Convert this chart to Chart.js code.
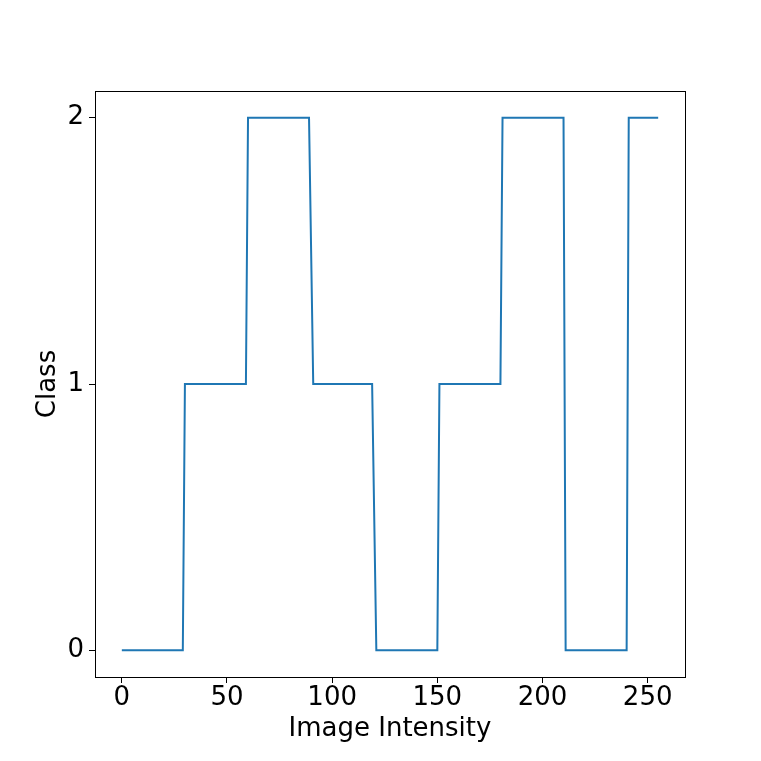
<!DOCTYPE html>
<html>
<head>
<meta charset="utf-8">
<script src="https://cdn.jsdelivr.net/npm/chart.js@4/dist/chart.umd.min.js"></script>
<style>
  html, body { margin: 0; padding: 0; background: #fff; }
  #wrap { width: 761px; height: 761px; }
</style>
</head>
<body>
<div id="wrap"><canvas id="chart"></canvas></div>
<script>
// Dados da curva (pontos de quebra da função em degrau)
const intensity = [0, 29, 30, 59, 60, 89, 91, 119, 121, 150, 151, 180, 181, 210, 211, 240, 241, 255];
const classValue = [0, 0, 1, 1, 2, 2, 1, 1, 0, 0, 1, 1, 2, 2, 0, 0, 2, 2];

// Marcas dos eixos
const xTicks = [0, 50, 100, 150, 200, 250];
const yTicks = [0, 1, 2];

const points = intensity.map((x, i) => ({ x: x, y: classValue[i] }));

// Moldura completa em volta da área do gráfico
const frame = {
    id: 'frame',
    afterDraw(chart) {
        const a = chart.chartArea;
        const ctx = chart.ctx;
        ctx.save();
        ctx.strokeStyle = '#000';
        ctx.lineWidth = 1;
        ctx.strokeRect(Math.round(a.left) + 0.5, Math.round(a.top) + 0.5,
            Math.round(a.right - a.left), Math.round(a.bottom - a.top));
        ctx.restore();
    }
};

const font = { family: 'DejaVu Sans', size: 26 };

new Chart(document.getElementById('chart'), {
    type: 'line',
    data: {
        datasets: [{
            data: points,
            borderColor: '#1f77b4',
            borderWidth: 2,
            pointRadius: 0,
            tension: 0,
            fill: false
        }]
    },
    options: {
        responsive: true,
        maintainAspectRatio: false,
        animation: false,
        layout: { padding: { top: 91, right: 76, left: 0, bottom: 0 } },
        plugins: { legend: { display: false }, tooltip: { enabled: false } },
        scales: {
            x: {
                type: 'linear',
                min: -12.75,
                max: 267.75,
                afterBuildTicks: s => { s.ticks = xTicks.map(v => ({ value: v })); },
                afterFit: s => { s.height = 84; },
                grid: { drawOnChartArea: false, drawTicks: true, tickLength: 6, color: '#000' },
                border: { color: '#000', width: 1 },
                ticks: { color: '#000', font: font, padding: 0, maxRotation: 0 },
                title: { display: true, text: 'Image Intensity', color: '#000', font: font, padding: { top: 0, bottom: 16 } }
            },
            y: {
                type: 'linear',
                min: -0.1,
                max: 2.1,
                afterBuildTicks: s => { s.ticks = yTicks.map(v => ({ value: v })); },
                afterFit: s => { s.width = 95; },
                grid: { drawOnChartArea: false, drawTicks: true, tickLength: 6, color: '#000' },
                border: { color: '#000', width: 1 },
                ticks: { color: '#000', font: font, padding: 5 },
                title: { display: true, text: 'Class', color: '#000', font: font, padding: { top: 33, bottom: 0 } }
            }
        }
    },
    plugins: [frame]
});
</script>
</body>
</html>
